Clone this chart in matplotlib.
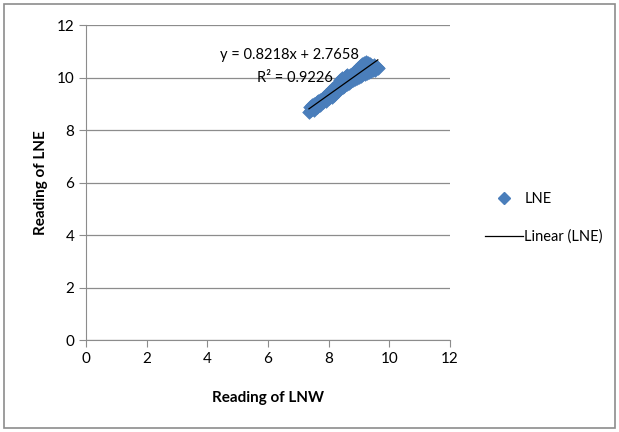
import matplotlib
matplotlib.use("Agg")
import matplotlib.pyplot as plt
from matplotlib.patches import Rectangle
from matplotlib.lines import Line2D

plt.rcParams['font.family'] = ['Lato', 'DejaVu Sans']

lnw = [7.35, 7.38, 7.42, 7.45, 7.50, 7.52, 7.55, 7.60, 7.62, 7.66, 7.70, 7.72, 7.76, 7.80,
       7.82, 7.86, 7.90, 7.92, 7.96, 8.00, 8.02, 8.06, 8.10, 8.12, 8.16, 8.20, 8.22, 8.26,
       8.30, 8.32, 8.35, 8.38, 8.40, 8.44, 8.46, 8.50, 8.52, 8.56, 8.60, 8.62, 8.66, 8.70,
       8.72, 8.76, 8.80, 8.82, 8.86, 8.90, 8.92, 8.96, 9.00, 9.02, 9.06, 9.10, 9.12, 9.16,
       9.20, 9.22, 9.26, 9.30, 9.32, 9.36, 9.40, 9.42, 9.46, 9.50, 9.54, 9.58, 9.62,
       7.48, 7.70, 7.95, 8.20, 8.45, 8.70, 8.95, 9.20, 9.45]
lne = [8.70, 8.88, 8.76, 8.95, 8.78, 8.98, 8.86, 9.06, 8.88, 9.12, 8.95, 9.16, 9.02, 9.22,
       9.05, 9.27, 9.10, 9.33, 9.17, 9.40, 9.22, 9.48, 9.27, 9.56, 9.35, 9.64, 9.42, 9.72,
       9.47, 9.80, 9.55, 9.90, 9.59, 9.97, 9.65, 10.00, 9.69, 10.04, 9.75, 10.08, 9.79, 10.11,
       9.85, 10.14, 9.89, 10.20, 9.95, 10.28, 9.99, 10.36, 10.02, 10.44, 10.07, 10.50, 10.12, 10.55,
       10.15, 10.60, 10.19, 10.55, 10.22, 10.50, 10.25, 10.45, 10.29, 10.46, 10.28, 10.40, 10.35,
       8.86, 9.05, 9.25, 9.48, 9.75, 9.98, 10.18, 10.38, 10.38]

slope = 0.8218
intercept = 2.7658
r2 = 0.9226
fit_x = [min(lnw), max(lnw)]
fit_y = [slope * v + intercept for v in fit_x]

ticks = [0, 2, 4, 6, 8, 10, 12]

fig = plt.figure(figsize=(6.19, 4.32), dpi=100)
ax = fig.add_axes([86/619, 92/432, 364/619, 315/432])

blue = '#4A7EBB'
ax.scatter(lnw, lne, marker='D', s=48, color=blue, edgecolors=blue, linewidths=0.5, zorder=3, label='LNE')
ax.plot(fit_x, fit_y, color='black', lw=0.9, zorder=4, label='Linear (LNE)')

ax.set_xlim(0, 12)
ax.set_ylim(0, 12)
ax.set_xticks(ticks)
ax.set_yticks(ticks)
ax.grid(axis='y', color='#8C8C8C', lw=0.9)
ax.set_axisbelow(True)
for s in ['top', 'right']:
    ax.spines[s].set_visible(False)
for s in ['left', 'bottom']:
    ax.spines[s].set_color('#8C8C8C')
ax.tick_params(colors='#8C8C8C', labelcolor='black', labelsize=11, length=5, direction='out')

ax.set_xlabel('Reading of LNW', fontsize=11, fontweight='bold', labelpad=18)
ax.set_ylabel('Reading of LNE', fontsize=11, fontweight='bold', labelpad=6)

ax.text(6.72, 10.86, 'y = 0.8218x + 2.7658', fontsize=10.5, ha='center', va='center')
ax.text(6.9, 9.98, 'R² = %.4f' % r2, fontsize=10.5, ha='center', va='center')

handles = [Line2D([], [], marker='D', ls='none', color=blue, markersize=6),
           Line2D([], [], color='black', lw=0.9)]
fig.legend(handles, ['LNE', 'Linear (LNE)'], loc='upper left',
           bbox_to_anchor=(472/619, 1 - 179/432), frameon=False, fontsize=10.5,
           handlelength=2.6, handletextpad=0.1, labelspacing=1.6)

fig.patches.append(Rectangle((4/619, 4/432), 611/619, 424/432, transform=fig.transFigure,
                             fill=False, edgecolor='#8C8C8C', lw=1.2))

fig.savefig('out.png', dpi=100)
